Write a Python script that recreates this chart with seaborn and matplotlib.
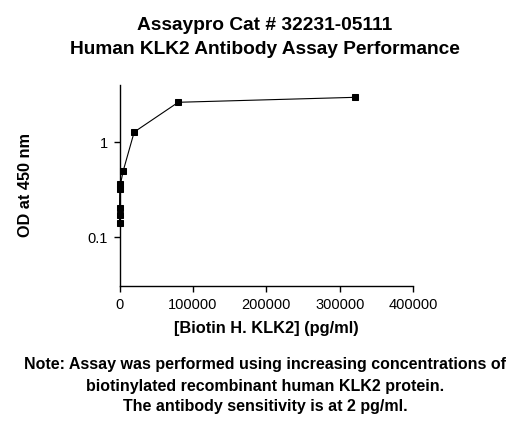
import matplotlib
matplotlib.use("Agg")
import matplotlib.pyplot as plt
import seaborn as sns
import pandas as pd
from matplotlib.ticker import FixedLocator, NullLocator, FixedFormatter

conc = [4.9, 19.5, 78, 312.5, 1250, 5000, 20000, 80000, 320000]
od = [0.14, 0.17, 0.203, 0.32, 0.36, 0.50, 1.29, 2.66, 3.0]
x_ticks = [0, 100000, 200000, 300000, 400000]
y_ticks = [0.1, 1]
y_tick_labels = ["0.1", "1"]

sns.set_theme(style="ticks")
plt.rcParams['font.family'] = ['Liberation Sans', 'DejaVu Sans']
plt.rcParams['text.color'] = 'black'
plt.rcParams['axes.labelcolor'] = 'black'
plt.rcParams['xtick.color'] = 'black'
plt.rcParams['ytick.color'] = 'black'

W, H = 530, 425
L, R, T, B = 119.5, 413.3, 85, 285.7

df = pd.DataFrame({"conc": conc, "od": od})
fig = plt.figure(figsize=(5.3, 4.25), dpi=100)
ax = fig.add_axes([L/W, 1-B/H, (R-L)/W, (B-T)/H])
sns.lineplot(data=df, x="conc", y="od", ax=ax, color="black", linewidth=0.8,
             marker="s", markersize=4, markeredgecolor="black", markerfacecolor="black",
             clip_on=False)
ax.set_yscale("log")
ax.set_xlim(0, 400000)
ax.set_ylim(0.0307, 4.05)
ax.xaxis.set_major_locator(FixedLocator(x_ticks))
ax.set_xticklabels([str(t) for t in x_ticks])
ax.yaxis.set_major_locator(FixedLocator(y_ticks))
ax.yaxis.set_major_formatter(FixedFormatter(y_tick_labels))
ax.yaxis.set_minor_locator(NullLocator())
ax.xaxis.set_minor_locator(NullLocator())
for s in ["top", "right"]:
    ax.spines[s].set_visible(False)
for s in ["left", "bottom"]:
    ax.spines[s].set_linewidth(1.0)
    ax.spines[s].set_color("black")
ax.tick_params(axis="both", direction="out", length=4.5, width=1, labelsize=10.5,
               colors="black", labelcolor="black", pad=4)
ax.set_xlabel("[Biotin H. KLK2] (pg/ml)", fontsize=11.8, fontweight="bold", color="black")
ax.xaxis.label.set_va("center")
ax.xaxis.set_label_coords(0.5, (B-329)/(B-T))
ax.set_ylabel("")
fig.text(25/W, 1-185/H, "OD at 450 nm", rotation=90, ha="center", va="center",
         fontsize=11.7, fontweight="bold", color="black")

fig.text(0.5, 1-25/H, "Assaypro Cat # 32231-05111", ha="center", va="center",
         fontsize=13.8, fontweight="bold", color="black")
fig.text(0.5, 1-49/H, "Human KLK2 Antibody Assay Performance", ha="center", va="center",
         fontsize=13.8, fontweight="bold", color="black")
note = ["Note: Assay was performed using increasing concentrations of",
        "biotinylated recombinant human KLK2 protein.",
        "The antibody sensitivity is at 2 pg/ml."]
for yy, line in zip([365, 386, 406], note):
    fig.text(0.5, 1-yy/H, line, ha="center", va="center",
             fontsize=11.5, fontweight="bold", color="black")

fig.savefig("out.png", dpi=100, facecolor="white")
